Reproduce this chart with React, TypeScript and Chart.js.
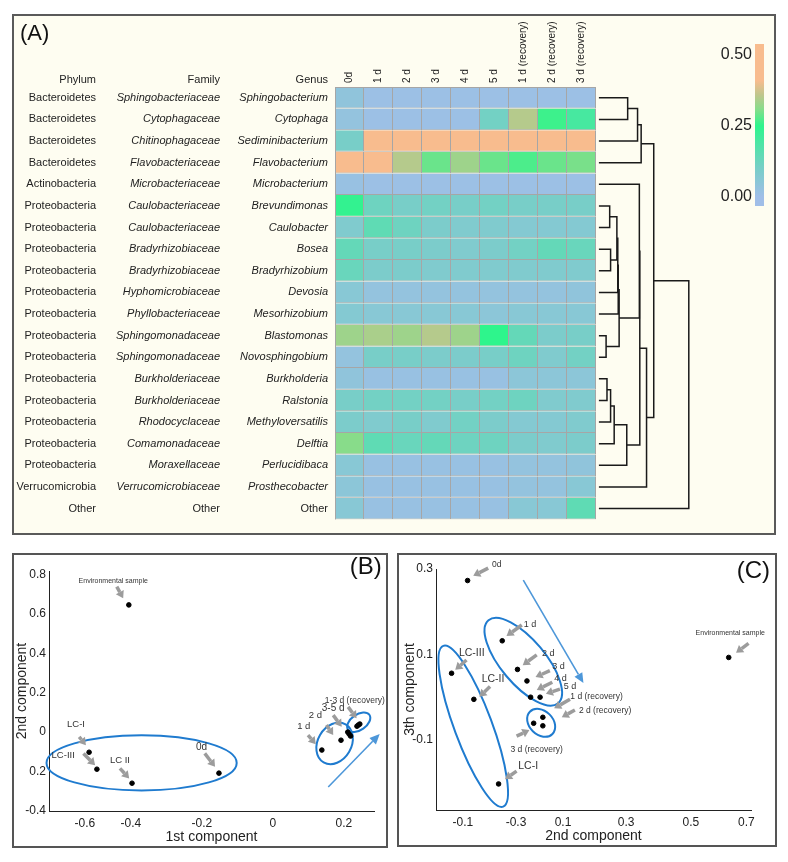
import React, { useEffect, useRef } from "react";
import { Chart, registerables } from "chart.js";

Chart.register(...registerables);

const FONT = '"Liberation Sans", Arial, Helvetica, sans-serif';
Chart.defaults.font.family = FONT;
Chart.defaults.color = "#222";

// ---------------- Panel A data ----------------
const PHYLA = [
  "Bacteroidetes", "Bacteroidetes", "Bacteroidetes", "Bacteroidetes", "Actinobacteria",
  "Proteobacteria", "Proteobacteria", "Proteobacteria", "Proteobacteria", "Proteobacteria",
  "Proteobacteria", "Proteobacteria", "Proteobacteria", "Proteobacteria", "Proteobacteria",
  "Proteobacteria", "Proteobacteria", "Proteobacteria", "Verrucomicrobia", "Other",
];
const FAMILIES = [
  "Sphingobacteriaceae", "Cytophagaceae", "Chitinophagaceae", "Flavobacteriaceae", "Microbacteriaceae",
  "Caulobacteriaceae", "Caulobacteriaceae", "Bradyrhizobiaceae", "Bradyrhizobiaceae", "Hyphomicrobiaceae",
  "Phyllobacteriaceae", "Sphingomonadaceae", "Sphingomonadaceae", "Burkholderiaceae", "Burkholderiaceae",
  "Rhodocyclaceae", "Comamonadaceae", "Moraxellaceae", "Verrucomicrobiaceae", "Other",
];
const GENERA = [
  "Sphingobacterium", "Cytophaga", "Sediminibacterium", "Flavobacterium", "Microbacterium",
  "Brevundimonas", "Caulobacter", "Bosea", "Bradyrhizobium", "Devosia",
  "Mesorhizobium", "Blastomonas", "Novosphingobium", "Burkholderia", "Ralstonia",
  "Methyloversatilis", "Delftia", "Perlucidibaca", "Prosthecobacter", "Other",
];
const TIMEPOINTS = ["0d", "1 d", "2 d", "3 d", "4 d", "5 d", "1 d (recovery)", "2 d (recovery)", "3 d (recovery)"];

// relative abundance, one row per genus, one column per time point
const ABUNDANCE = [
  [0.04, 0.01, 0.01, 0.01, 0.01, 0.01, 0.01, 0.01, 0.01],
  [0.03, 0.01, 0.01, 0.01, 0.01, 0.11, 0.35, 0.26, 0.2],
  [0.1, 0.5, 0.5, 0.5, 0.5, 0.5, 0.5, 0.5, 0.5],
  [0.48, 0.47, 0.35, 0.29, 0.33, 0.29, 0.27, 0.29, 0.3],
  [0.02, 0.01, 0.01, 0.01, 0.01, 0.01, 0.01, 0.01, 0.01],
  [0.24, 0.12, 0.1, 0.11, 0.1, 0.11, 0.1, 0.1, 0.1],
  [0.08, 0.15, 0.12, 0.09, 0.08, 0.08, 0.07, 0.07, 0.07],
  [0.14, 0.1, 0.1, 0.09, 0.08, 0.09, 0.11, 0.14, 0.13],
  [0.13, 0.09, 0.09, 0.08, 0.08, 0.08, 0.08, 0.08, 0.08],
  [0.06, 0.03, 0.03, 0.03, 0.03, 0.03, 0.03, 0.03, 0.04],
  [0.07, 0.06, 0.06, 0.06, 0.06, 0.05, 0.06, 0.06, 0.06],
  [0.33, 0.34, 0.33, 0.35, 0.33, 0.25, 0.14, 0.09, 0.1],
  [0.03, 0.1, 0.1, 0.09, 0.09, 0.1, 0.12, 0.08, 0.11],
  [0.04, 0.02, 0.02, 0.02, 0.02, 0.02, 0.05, 0.05, 0.05],
  [0.1, 0.11, 0.11, 0.11, 0.1, 0.11, 0.12, 0.08, 0.08],
  [0.09, 0.08, 0.1, 0.08, 0.11, 0.09, 0.07, 0.07, 0.08],
  [0.31, 0.15, 0.13, 0.14, 0.12, 0.12, 0.09, 0.08, 0.09],
  [0.06, 0.02, 0.02, 0.02, 0.02, 0.02, 0.03, 0.03, 0.04],
  [0.05, 0.02, 0.02, 0.02, 0.02, 0.02, 0.03, 0.03, 0.06],
  [0.06, 0.02, 0.02, 0.02, 0.02, 0.02, 0.06, 0.06, 0.15],
];

const COLOR_STOP_VALUES = [0, 0.1, 0.25, 0.31, 0.36, 0.41];
const COLOR_STOP_COLORS = ["#a0bee8", "#78cec8", "#2ef58c", "#88dc8a", "#c0c68c", "#f8bc8e"];
const COLORBAR_TICKS = [0, 0.25, 0.5];
const COLORBAR_MIN = -0.032;
const COLORBAR_MAX = 0.539;

// hierarchical clustering of genera: [childA, childB, height]; leaves are 0..19, merges 20..
const DENDRO_MERGES: [number, number, number][] = [
  [0, 1, 0.32],
  [20, 2, 0.43],
  [21, 3, 0.47],
  [5, 6, 0.12],
  [7, 8, 0.13],
  [23, 24, 0.2],
  [25, 9, 0.21],
  [26, 10, 0.215],
  [11, 12, 0.08],
  [27, 28, 0.225],
  [13, 14, 0.09],
  [30, 15, 0.13],
  [31, 16, 0.17],
  [32, 17, 0.31],
  [4, 29, 0.45],
  [34, 33, 0.455],
  [35, 18, 0.53],
  [22, 36, 0.61],
  [37, 19, 1.0],
];

// ---------------- Panel B / C data ----------------
const SAMPLES = ["Environmental sample", "LC-I", "LC-II", "LC-III", "0d", "1d", "2d", "3d", "4d", "5d", "1d (recovery)", "2d (recovery)", "3d (recovery)"];
const PC1 = [-0.406, -0.518, -0.397, -0.496, -0.152, 0.138, 0.192, 0.211, 0.215, 0.219, 0.237, 0.245, 0.241];
const PC2_B = [0.645, -0.102, -0.259, -0.188, -0.208, -0.091, -0.041, 0.0, -0.01, -0.02, 0.03, 0.041, 0.036];
const PC2_C = [0.643, -0.111, -0.192, -0.265, -0.2125, -0.099, -0.049, -0.018, -0.006, 0.025, 0.034, 0.034, 0.004];
const PC3 = [0.093, -0.203, -0.005, 0.056, 0.273, 0.132, 0.065, 0.038, 0.0, 0.0, -0.047, -0.067, -0.061];

const B_X_TICKS = [-0.53, -0.4, -0.2, 0, 0.2];
const B_X_TICK_LABELS = ["-0.6", "-0.4", "-0.2", "0", "0.2"];
const B_Y_TICKS = [-0.4, -0.2, 0, 0.2, 0.4, 0.6, 0.8];
const B_Y_TICK_LABELS = ["-0.4", "0.2", "0", "0.2", "0.4", "0.6", "0.8"];
const C_X_TICKS = [-0.228, -0.054, 0.1, 0.307, 0.519, 0.701];
const C_X_TICK_LABELS = ["-0.1", "-0.3", "0.1", "0.3", "0.5", "0.7"];
const C_Y_TICKS = [-0.1, 0.1, 0.3];
const C_Y_TICK_LABELS = ["-0.1", "0.1", "0.3"];

// annotations (data coordinates)
const B_NOTE_TEXT = ["Environmental sample", "LC-I", "LC-III", "LC II", "0d", "1 d", "2 d", "3-5 d", "1-3 d (recovery)"];
const B_NOTE_X = [-0.45, -0.555, -0.591, -0.431, -0.201, 0.087, 0.12, 0.17, 0.231];
const B_NOTE_Y = [0.768, 0.037, -0.117, -0.142, -0.078, 0.027, 0.083, 0.123, 0.162];
const B_NOTE_SIZE = [7, 9.5, 9.5, 9.5, 10, 9.5, 9.5, 10, 8.5];
const B_POINTERS = [
  [-0.44, 0.738, -0.422, 0.679],
  [-0.546, -0.024, -0.527, -0.066],
  [-0.534, -0.108, -0.501, -0.168],
  [-0.431, -0.184, -0.405, -0.235],
  [-0.192, -0.108, -0.163, -0.176],
  [0.099, -0.015, 0.121, -0.061],
  [0.151, 0.036, 0.17, -0.015],
  [0.17, 0.086, 0.194, 0.027],
  [0.212, 0.128, 0.236, 0.07],
];
const B_TREND = [0.156, -0.278, 0.301, -0.01];
// ellipse: centre x, centre y, major-axis tip x, tip y, minor/major ratio
const B_GROUPS = [
  [-0.37, -0.156, -0.102, -0.156, 0.29],
  [0.174, -0.057, 0.205, 0.039, 0.77],
  [0.242, 0.05, 0.272, 0.088, 0.6],
];

const C_NOTE_TEXT = ["0d", "1 d", "2 d", "3 d", "4 d", "5 d", "1 d (recovery)", "2 d (recovery)", "3 d (recovery)", "LC-III", "LC-II", "LC-I", "Environmental sample"];
const C_NOTE_X = [-0.117, -0.008, 0.052, 0.085, 0.092, 0.123, 0.21, 0.238, 0.014, -0.199, -0.129, -0.014, 0.648];
const C_NOTE_Y = [0.309, 0.171, 0.103, 0.071, 0.044, 0.026, 0.001, -0.032, -0.122, 0.103, 0.042, -0.162, 0.151];
const C_NOTE_SIZE = [8.5, 9, 9, 9, 9, 9, 8.5, 8.5, 8.5, 10.5, 10.5, 10.5, 7];
const C_POINTERS = [
  [-0.145, 0.302, -0.194, 0.284],
  [-0.035, 0.169, -0.085, 0.143],
  [0.014, 0.099, -0.032, 0.075],
  [0.057, 0.062, 0.01, 0.047],
  [0.065, 0.035, 0.014, 0.017],
  [0.09, 0.019, 0.044, 0.008],
  [0.123, -0.005, 0.071, -0.026],
  [0.139, -0.03, 0.096, -0.047],
  [-0.052, -0.091, -0.01, -0.077],
  [-0.216, 0.087, -0.253, 0.064],
  [-0.139, 0.025, -0.174, 0.001],
  [-0.052, -0.173, -0.09, -0.192],
  [0.708, 0.126, 0.667, 0.104],
];
const C_TREND = [-0.03, 0.274, 0.167, 0.033];
const C_GROUPS = [
  [-0.194, -0.068, -0.292, 0.12, 0.22],
  [-0.03, 0.083, -0.144, 0.18, 0.41],
  [0.0285, -0.06, -0.0085, -0.034, 0.75],
];

// ---------------- styles ----------------
const CELL_BORDER = "#a6a6a6";
const POINTER_COLOR = "#9c9c9c";
const TREND_COLOR = "#4d97d9";
const GROUP_COLOR = "#1f7bcf";
const TEXT_COLOR = "#222";

function hexToRgb(h: string) {
  const n = parseInt(h.slice(1), 16);
  return [(n >> 16) & 255, (n >> 8) & 255, n & 255];
}
function colorFor(v: number) {
  const vs = COLOR_STOP_VALUES;
  const cs = COLOR_STOP_COLORS.map(hexToRgb);
  if (v <= vs[0]) return `rgb(${cs[0].join(",")})`;
  for (let i = 0; i < vs.length - 1; i++) {
    if (v <= vs[i + 1]) {
      const t = (v - vs[i]) / (vs[i + 1] - vs[i]);
      const c = cs[i].map((a, k) => Math.round(a + (cs[i + 1][k] - a) * t));
      return `rgb(${c.join(",")})`;
    }
  }
  return `rgb(${cs[cs.length - 1].join(",")})`;
}

const DENDRO_BASE = 9.1;
const DENDRO_SPAN = 3.1;

const panelAPlugin = {
  id: "panelA",
  afterDraw(chart: any) {
    const { ctx, chartArea } = chart;
    const xs = chart.scales.x;
    const ys = chart.scales.y;
    ctx.save();
    // outline of the matrix (top / left edges)
    const l = xs.getPixelForValue(0);
    const r = xs.getPixelForValue(TIMEPOINTS.length);
    ctx.fillStyle = CELL_BORDER;
    ctx.fillRect(l, chartArea.top, r - l, 1);
    ctx.fillRect(l, chartArea.top, 1, chartArea.bottom - chartArea.top);

    // panel letter
    ctx.fillStyle = "#111";
    ctx.font = `22px ${FONT}`;
    ctx.textAlign = "left";
    ctx.textBaseline = "middle";
    ctx.fillText("(A)", 6, 18);

    // taxonomy columns
    const phylumRight = 82;
    const familyRight = 206;
    const genusRight = chartArea.left - 7;
    ctx.fillStyle = TEXT_COLOR;
    ctx.textAlign = "right";
    ctx.font = `11px ${FONT}`;
    const hy = chartArea.top - 7;
    ctx.fillText("Phylum", phylumRight, hy);
    ctx.fillText("Family", familyRight, hy);
    ctx.fillText("Genus", genusRight, hy);
    GENERA.forEach((_, i) => {
      const y = ys.getPixelForValue(i);
      ctx.font = `11px ${FONT}`;
      ctx.fillText(PHYLA[i], phylumRight, y);
      ctx.font = `${FAMILIES[i] === "Other" ? "" : "italic "}11px ${FONT}`;
      ctx.fillText(FAMILIES[i], familyRight, y);
    });

    // dendrogram
    ctx.strokeStyle = "#1a1a1a";
    ctx.lineWidth = 1.5;
    const n = GENERA.length;
    const pos: { x: number; y: number }[] = [];
    for (let i = 0; i < n; i++) pos[i] = { x: xs.getPixelForValue(DENDRO_BASE), y: ys.getPixelForValue(i) };
    DENDRO_MERGES.forEach(([a, b, h], k) => {
      const px = xs.getPixelForValue(DENDRO_BASE + h * DENDRO_SPAN);
      const pa = pos[a];
      const pb = pos[b];
      ctx.beginPath();
      ctx.moveTo(pa.x, pa.y);
      ctx.lineTo(px, pa.y);
      ctx.lineTo(px, pb.y);
      ctx.lineTo(pb.x, pb.y);
      ctx.stroke();
      pos[n + k] = { x: px, y: (pa.y + pb.y) / 2 };
    });

    // colour bar
    const cbX = 741, cbW = 9, cbTop = 28, cbBottom = 190;
    const frac = (v: number) => (v - COLORBAR_MIN) / (COLORBAR_MAX - COLORBAR_MIN);
    const g = ctx.createLinearGradient(0, cbBottom, 0, cbTop);
    g.addColorStop(0, colorFor(COLORBAR_MIN));
    COLOR_STOP_VALUES.forEach((v) => {
      const f = frac(v);
      if (f >= 0 && f <= 1) g.addColorStop(f, colorFor(v));
    });
    g.addColorStop(1, colorFor(COLORBAR_MAX));
    ctx.fillStyle = g;
    ctx.fillRect(cbX, cbTop, cbW, cbBottom - cbTop);
    ctx.fillStyle = TEXT_COLOR;
    ctx.font = `16px ${FONT}`;
    ctx.textAlign = "right";
    COLORBAR_TICKS.forEach((v) => {
      ctx.fillText(v.toFixed(2), cbX - 3, cbBottom - frac(v) * (cbBottom - cbTop));
    });
    ctx.restore();
  },
};

function makeHeatmapConfig(): any {
  return {
    type: "bar",
    data: {
      labels: GENERA,
      datasets: TIMEPOINTS.map((tp, c) => ({
        label: tp,
        data: GENERA.map(() => 1),
        backgroundColor: GENERA.map((_, r) => colorFor(ABUNDANCE[r][c])),
        borderColor: CELL_BORDER,
        borderWidth: { top: 0, left: 0, right: 1, bottom: 1 },
        borderSkipped: false,
        barPercentage: 1,
        categoryPercentage: 1,
        inflateAmount: 0,
      })),
    },
    options: {
      indexAxis: "y",
      animation: false,
      responsive: false,
      events: [],
      layout: { padding: { left: 0, top: 0, right: 76.5, bottom: 6 } },
      plugins: { legend: { display: false }, tooltip: { enabled: false } },
      scales: {
        x: {
          type: "linear",
          position: "top",
          min: 0,
          max: 12.5,
          stacked: true,
          grid: { display: false, drawTicks: false },
          border: { display: false },
          afterBuildTicks: (s: any) => {
            s.ticks = TIMEPOINTS.map((_, i) => ({ value: i + 0.5 }));
          },
          afterFit: (s: any) => {
            s.height = 71;
          },
          ticks: {
            autoSkip: false,
            minRotation: 90,
            maxRotation: 90,
            padding: 4,
            labelOffset: 12,
            color: TEXT_COLOR,
            font: { size: 10, family: FONT },
            callback: (_v: any, i: number) => TIMEPOINTS[i],
          },
        },
        y: {
          type: "category",
          position: "left",
          stacked: true,
          grid: { display: false, drawTicks: false },
          border: { display: false },
          afterFit: (s: any) => {
            s.width = 321;
          },
          ticks: {
            autoSkip: false,
            padding: 7,
            color: TEXT_COLOR,
            font: (c: any) => ({ size: 11, family: FONT, style: GENERA[c.index] === "Other" ? "normal" : "italic" }),
          },
        },
      },
    },
    plugins: [panelAPlugin],
  };
}

function drawArrow(ctx: any, x1: number, y1: number, x2: number, y2: number, color: string, w: number, headLen: number, headHalf: number) {
  const ang = Math.atan2(y2 - y1, x2 - x1);
  const bx = x2 - headLen * Math.cos(ang);
  const by = y2 - headLen * Math.sin(ang);
  ctx.strokeStyle = color;
  ctx.fillStyle = color;
  ctx.lineWidth = w;
  ctx.lineCap = "butt";
  ctx.beginPath();
  ctx.moveTo(x1, y1);
  ctx.lineTo(bx, by);
  ctx.stroke();
  ctx.beginPath();
  ctx.moveTo(x2, y2);
  ctx.lineTo(bx + headHalf * Math.sin(ang), by - headHalf * Math.cos(ang));
  ctx.lineTo(bx - headHalf * Math.sin(ang), by + headHalf * Math.cos(ang));
  ctx.closePath();
  ctx.fill();
}

function makeNotesPlugin(spec: any) {
  return {
    id: "notes" + spec.letter,
    beforeDatasetsDraw(chart: any) {
      const { ctx } = chart;
      const xs = chart.scales.x;
      const ys = chart.scales.y;
      const X = (v: number) => xs.getPixelForValue(v);
      const Y = (v: number) => ys.getPixelForValue(v);
      ctx.save();
      ctx.strokeStyle = GROUP_COLOR;
      ctx.lineWidth = 2;
      spec.groups.forEach(([cx, cy, tx, ty, ratio]: number[]) => {
        const px = X(cx), py = Y(cy);
        const qx = X(tx), qy = Y(ty);
        const a = Math.hypot(qx - px, qy - py);
        const ang = Math.atan2(qy - py, qx - px);
        ctx.beginPath();
        ctx.ellipse(px, py, a, a * ratio, ang, 0, Math.PI * 2);
        ctx.stroke();
      });
      spec.pointers.forEach(([x1, y1, x2, y2]: number[]) => drawArrow(ctx, X(x1), Y(y1), X(x2), Y(y2), POINTER_COLOR, 3.5, 7, 4.5));
      const [a, b, c, d] = spec.trend;
      drawArrow(ctx, X(a), Y(b), X(c), Y(d), TREND_COLOR, 1.6, 10, 4.5);
      ctx.fillStyle = "#333";
      ctx.textAlign = "center";
      ctx.textBaseline = "middle";
      spec.noteText.forEach((t: string, i: number) => {
        ctx.font = `${spec.noteSize[i]}px ${FONT}`;
        ctx.fillText(t, X(spec.noteX[i]), Y(spec.noteY[i]));
      });
      ctx.fillStyle = "#111";
      ctx.font = `24px ${FONT}`;
      ctx.textAlign = "right";
      ctx.fillText(spec.letter, chart.width - spec.letterRight, spec.letterY);
      ctx.restore();
    },
  };
}

function makeScatterConfig(o: any): any {
  return {
    type: "scatter",
    data: {
      datasets: [
        {
          label: "samples",
          data: SAMPLES.map((_, i) => ({ x: o.xs[i], y: o.ys[i] })),
          pointRadius: 2.3,
          pointBorderWidth: 1,
          backgroundColor: "#000",
          borderColor: "#000",
          clip: false,
        },
      ],
    },
    options: {
      animation: false,
      responsive: false,
      events: [],
      layout: { padding: o.padding },
      plugins: { legend: { display: false }, tooltip: { enabled: false } },
      scales: {
        x: {
          type: "linear",
          min: o.xMin,
          max: o.xMax,
          grid: { display: false, drawTicks: false },
          border: { display: true, color: "#222", width: 1 },
          afterBuildTicks: (s: any) => {
            s.ticks = o.xTicks.map((v: number) => ({ value: v }));
          },
          afterFit: (s: any) => {
            s.height = 35;
          },
          ticks: {
            autoSkip: false,
            maxRotation: 0,
            padding: 5,
            color: TEXT_COLOR,
            font: { size: 12, family: FONT },
            callback: (_v: any, i: number) => o.xLabels[i],
          },
          title: { display: true, text: o.xTitle, color: TEXT_COLOR, font: { size: 14, family: FONT }, padding: 0 },
        },
        y: {
          type: "linear",
          min: o.yMin,
          max: o.yMax,
          grid: { display: false, drawTicks: false },
          border: { display: true, color: "#222", width: 1 },
          afterBuildTicks: (s: any) => {
            s.ticks = o.yTicks.map((v: number) => ({ value: v }));
          },
          afterFit: (s: any) => {
            s.width = o.yAxisWidth;
          },
          ticks: {
            autoSkip: false,
            padding: 3,
            color: TEXT_COLOR,
            font: { size: 12, family: FONT },
            callback: (_v: any, i: number) => o.yLabels[i],
          },
          title: { display: true, text: o.yTitle, color: TEXT_COLOR, font: { size: 14, family: FONT }, padding: { top: o.yTitlePad, bottom: 0 } },
        },
      },
    },
    plugins: [makeNotesPlugin(o.notes)],
  };
}

function makeBConfig() {
  return makeScatterConfig({
    xs: PC1,
    ys: PC2_B,
    xMin: -0.631,
    xMax: 0.285,
    yMin: -0.4,
    yMax: 0.817,
    xTicks: B_X_TICKS,
    xLabels: B_X_TICK_LABELS,
    yTicks: B_Y_TICKS,
    yLabels: B_Y_TICK_LABELS,
    xTitle: "1st component",
    yTitle: "2nd component",
    yAxisWidth: 35,
    yTitlePad: 0,
    padding: { left: 0, top: 16, right: 12, bottom: 0 },
    notes: {
      letter: "(B)",
      letterRight: 4.3,
      letterY: 12,
      groups: B_GROUPS,
      pointers: B_POINTERS,
      trend: B_TREND,
      noteText: B_NOTE_TEXT,
      noteX: B_NOTE_X,
      noteY: B_NOTE_Y,
      noteSize: B_NOTE_SIZE,
    },
  });
}

function makeCConfig() {
  return makeScatterConfig({
    xs: PC2_C,
    ys: PC3,
    xMin: -0.316,
    xMax: 0.716,
    yMin: -0.264,
    yMax: 0.3,
    xTicks: C_X_TICKS,
    xLabels: C_X_TICK_LABELS,
    yTicks: C_Y_TICKS,
    yLabels: C_Y_TICK_LABELS,
    xTitle: "2nd component",
    yTitle: "3th component",
    yAxisWidth: 37,
    yTitlePad: 2.6,
    padding: { left: 0, top: 14, right: 24, bottom: 0 },
    notes: {
      letter: "(C)",
      letterRight: 5,
      letterY: 16,
      groups: C_GROUPS,
      pointers: C_POINTERS,
      trend: C_TREND,
      noteText: C_NOTE_TEXT,
      noteX: C_NOTE_X,
      noteY: C_NOTE_Y,
      noteSize: C_NOTE_SIZE,
    },
  });
}

function ChartPanel({ config, width, height, boxStyle }: any) {
  const ref = useRef<HTMLCanvasElement>(null);
  useEffect(() => {
    const chart = new Chart(ref.current as HTMLCanvasElement, config());
    return () => chart.destroy();
  }, []);
  return (
    <div style={{ position: "absolute", boxSizing: "content-box", width, height, ...boxStyle }}>
      <canvas ref={ref} width={width} height={height} style={{ display: "block", width, height }} />
    </div>
  );
}

export default function App() {
  return (
    <div style={{ position: "relative", width: 772, height: 840, fontFamily: FONT }}>
      <ChartPanel config={makeHeatmapConfig} width={760} height={517} boxStyle={{ left: 4, top: 6, border: "2px solid #5a5a5a", background: "#fefdf1" }} />
      <ChartPanel config={makeBConfig} width={372} height={291} boxStyle={{ left: 4, top: 545, border: "2px solid #555", background: "#fff" }} />
      <ChartPanel config={makeCConfig} width={376} height={290} boxStyle={{ left: 389, top: 545, border: "2px solid #555", background: "#fff" }} />
    </div>
  );
}
